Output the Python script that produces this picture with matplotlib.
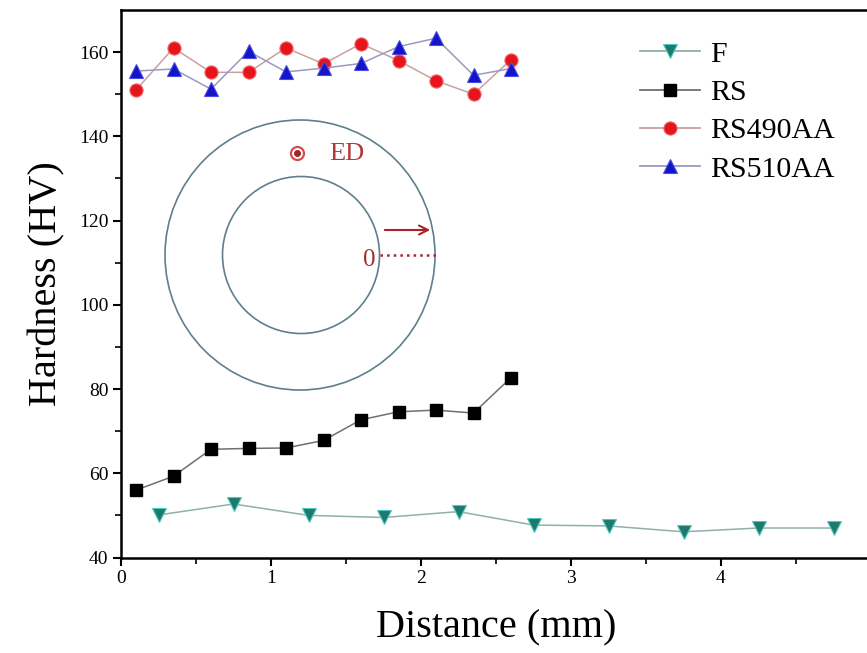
import matplotlib
matplotlib.use("Agg")
import matplotlib.pyplot as plt
from matplotlib.patches import Circle, FancyArrowPatch

plt.rcParams['font.family'] = ['Liberation Serif', 'DejaVu Serif']

# Hardness profiles along the radial distance
x_f = [0.25, 0.75, 1.25, 1.75, 2.25, 2.75, 3.25, 3.75, 4.25, 4.75]
hv_f = [50.1, 52.7, 50.0, 49.5, 50.9, 47.7, 47.5, 46.1, 47.0, 47.0]

x_rs = [0.10, 0.35, 0.60, 0.85, 1.10, 1.35, 1.60, 1.85, 2.10, 2.35, 2.60]
hv_rs = [56.0, 59.3, 65.7, 65.9, 66.0, 67.8, 72.7, 74.6, 75.0, 74.3, 82.7]
hv_rs490 = [151.0, 161.0, 155.2, 155.2, 161.0, 157.2, 162.0, 158.0, 153.2, 150.0, 158.2]
hv_rs510 = [155.5, 156.0, 151.2, 160.2, 155.3, 156.2, 157.3, 161.3, 163.3, 154.5, 156.1]

labels = ['F', 'RS', 'RS490AA', 'RS510AA']

W, H = 867, 653
fig = plt.figure(figsize=(W / 100, H / 100), dpi=100)
ax = fig.add_axes([121 / W, 1 - 557.5 / H, 750 / W, 547.5 / H])

ax.plot(x_f, hv_f, '-', color='#8fb0ac', lw=1.1, marker='v', ms=10,
        mfc='#1e7a6c', mec='#4fc9c0', mew=0.8, label=labels[0])
ax.plot(x_rs, hv_rs, '-', color='#707070', lw=1.1, marker='s', ms=8.5,
        mfc='black', mec='black', label=labels[1])
ax.plot(x_rs, hv_rs490, '-', color='#c9a0a0', lw=1.1, marker='o', ms=9.5,
        mfc='#e8141c', mec='#f06a6a', mew=0.8, label=labels[2])
ax.plot(x_rs, hv_rs510, '-', color='#9a9ac0', lw=1.1, marker='^', ms=10,
        mfc='#1414c8', mec='#4a4ae0', mew=0.8, label=labels[3])

ax.set_xlim(0, 5)
ax.set_ylim(40, 170)
ax.set_xticks([0, 1, 2, 3, 4, 5])
ax.set_xticks([0.5, 1.5, 2.5, 3.5, 4.5], minor=True)
ax.set_yticks([40, 60, 80, 100, 120, 140, 160])
ax.set_yticks([50, 70, 90, 110, 130, 150], minor=True)
ax.tick_params(which='major', direction='out', length=6, width=1.5,
               labelsize=14, pad=3)
ax.tick_params(which='minor', direction='out', length=4, width=1.2)
for side in ['left', 'bottom', 'top', 'right']:
    ax.spines[side].set_linewidth(1.8)

ax.set_xlabel('Distance (mm)', fontsize=29, labelpad=16)
ax.set_ylabel('Hardness (HV)', fontsize=29, labelpad=10)

leg = ax.legend(loc='upper left', bbox_to_anchor=(640 / W, 1 - 41 / H),
                bbox_transform=fig.transFigure, frameon=False, fontsize=21.5,
                handlelength=2.0, handletextpad=0.35, labelspacing=0.38,
                borderpad=0, borderaxespad=0)
for ln in leg.get_lines():
    ln.set_linewidth(1.3)

# Schematic of the tube cross-section with the extrusion direction
ov = fig.add_axes([0, 0, 1, 1], facecolor='none')
ov.set_xlim(0, W)
ov.set_ylim(H, 0)
ov.axis('off')
ring = '#5f7f8c'
ov.add_patch(Circle((300, 255), 135, fill=False, ec=ring, lw=1.2))
ov.add_patch(Circle((301, 255), 78.5, fill=False, ec=ring, lw=1.2))
dark_red = '#a8242a'
ov.add_patch(Circle((297.5, 153.5), 6.5, fill=False, ec='#d05050', lw=1.6))
ov.add_patch(Circle((297.5, 153.5), 2.8, fc=dark_red, ec=dark_red))
ov.text(329, 154, 'ED', color='#b03a3a', fontsize=19, va='center', ha='left')
ov.add_patch(FancyArrowPatch((382, 230), (433, 230), arrowstyle='->',
                             mutation_scale=16, color=dark_red, lw=1.5))
ov.plot([380, 436], [255, 255], ':', color=dark_red, lw=1.8)
ov.text(369, 260, '0', color='#a03030', fontsize=18, va='center', ha='center')

fig.savefig('out.png', dpi=100)
